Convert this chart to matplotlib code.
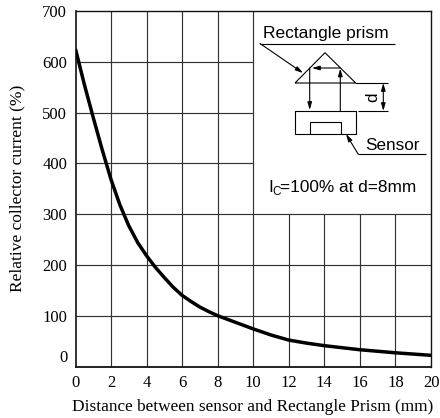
import matplotlib
matplotlib.use("Agg")
import matplotlib.pyplot as plt

# values
distance = [0, 0.5, 1, 1.5, 2, 2.5, 3, 3.5, 4, 4.5, 5, 5.5, 6, 6.5, 7, 7.5, 8, 9, 10, 11, 12, 13, 14, 15, 16, 17, 18, 19, 20]
current = [625, 555, 490, 427, 368, 318, 277, 244, 218, 195, 175, 156, 140, 128, 117, 108, 100, 87, 74, 62, 52, 46, 41, 37, 33, 30, 27, 24.5, 22]
x_ticks = list(range(0, 21, 2))
y_ticks = list(range(0, 701, 100))

W, H = 440, 418
SERIF = "Liberation Serif"
SANS = "Liberation Sans"

fig = plt.figure(figsize=(W / 100, H / 100), dpi=100)
ax = fig.add_axes([75.5 / W, 1 - 366.5 / H, 355.5 / W, 355.5 / H])
ax.set_xlim(0, 20)
ax.set_ylim(0, 700)

# the grid stops around the inset drawing (x > 10, y > 300)
for x in x_ticks[1:-1]:
    ax.vlines(x, 0, 700 if x <= 10 else 300, color="#333333", lw=0.85, zorder=1)
for y in y_ticks[1:-1]:
    ax.hlines(y, 0, 20 if y <= 300 else 10, color="#333333", lw=0.85, zorder=1)

ax.plot(distance, current, color="black", lw=2.5, zorder=3, solid_capstyle="butt")

ax.set_xticks(x_ticks)
ax.set_yticks(y_ticks)
ax.tick_params(length=0, labelsize=12, pad=6)
for lab in ax.get_xticklabels() + ax.get_yticklabels():
    lab.set_fontfamily(SERIF)
ax.get_yticklabels()[0].set_verticalalignment("bottom")
for side in ax.spines.values():
    side.set_linewidth(1.0)
    side.set_color("#111111")
ax.spines["left"].set_linewidth(1.2)
ax.spines["bottom"].set_linewidth(1.3)

fig.text(252.5 / W, 1 - 411 / H, "Distance between sensor and Rectangle Prism (mm)",
         family=SERIF, fontsize=12.4, ha="center", va="baseline")
fig.text(17.5 / W, 1 - 188 / H, "Relative collector current (%)",
         family=SERIF, fontsize=12.5, rotation=90, ha="center", va="center")

# inset schematic, in pixel coordinates of the figure
sk = fig.add_axes([0, 0, 1, 1], facecolor="none")
sk.set_xlim(0, W)
sk.set_ylim(H, 0)
sk.axis("off")


def line(xs, ys):
    sk.plot(xs, ys, color="black", lw=0.8, solid_capstyle="butt", solid_joinstyle="miter")


def arrow(start, end, style="-|>"):
    sk.annotate("", xy=end, xytext=start,
                arrowprops=dict(arrowstyle=style + ",head_length=0.45,head_width=0.13",
                                color="black", lw=0.8, shrinkA=0, shrinkB=0))


line([295, 325, 355.7, 295], [83, 52.7, 83, 83])  # prism
line([295, 356, 356, 295, 295], [111, 111, 134, 134, 111])  # sensor
line([310, 310, 340.5, 340.5], [134, 122.3, 122.3, 134])
line([260, 395], [43.5, 43.5])
line([358, 426], [154.3, 154.3])
line([355, 388], [83, 83])
line([358, 388], [111, 111])
arrow((260, 43.5), (303, 73))
arrow((358.3, 154.3), (346, 134))
arrow((309.7, 68), (309.7, 110))
arrow((340.3, 111), (340.3, 68.5))
arrow((340.3, 68), (312, 68))
arrow((383.3, 83), (383.3, 111), "<|-|>")

sk.text(263, 38, "Rectangle prism", family=SANS, fontsize=12.5, va="baseline")
sk.text(365, 150, "Sensor", family=SANS, fontsize=12.3, va="baseline")
sk.text(372.7, 97, "d", family=SANS, fontsize=12.3, rotation=90, ha="center", va="center")
sk.text(268, 191.7, "I", family=SANS, fontsize=12.3, va="baseline")
sk.text(272, 195, "C", family=SANS, fontsize=8.5, va="baseline")
sk.text(280, 191.7, "=100% at d=8mm", family=SANS, fontsize=12.4, va="baseline")

fig.savefig("out.png", dpi=100)
